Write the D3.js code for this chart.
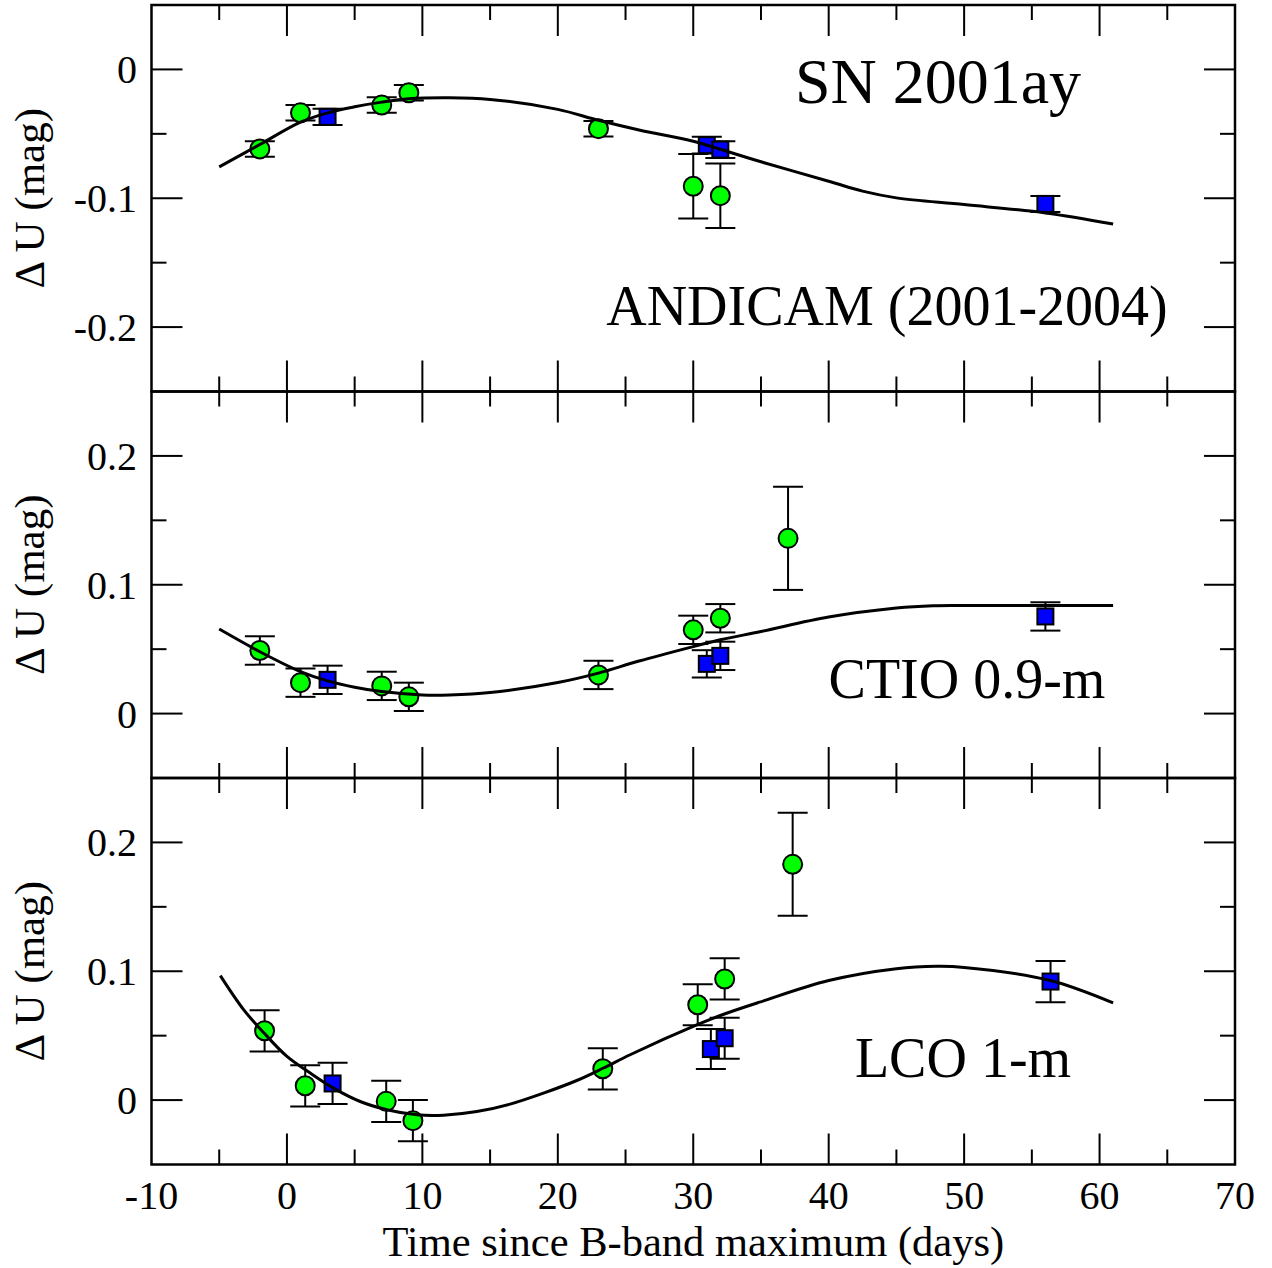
<!DOCTYPE html>
<html><head><meta charset="utf-8">
<script src="https://cdn.jsdelivr.net/npm/d3@7"></script>
<style>body{margin:0;background:#fff}svg{display:block}</style>
</head><body>
<svg id="c" width="1272" height="1268"></svg>
<script>
// ---------- data ----------
const xTickValues = [-10, 0, 10, 20, 30, 40, 50, 60, 70];
const xTickLabels = ["-10", "0", "10", "20", "30", "40", "50", "60", "70"];
const panelNames = ["ANDICAM (2001-2004)", "CTIO 0.9-m", "LCO 1-m"];
const yDomains = [[-0.25, 0.05], [-0.05, 0.25], [-0.05, 0.25]];
const yTickValues = [[-0.2, -0.1, 0], [0, 0.1, 0.2], [0, 0.1, 0.2]];
const yTickLabels = [["-0.2", "-0.1", "0"], ["0", "0.1", "0.2"], ["0", "0.1", "0.2"]];
const title = "SN 2001ay";
const xLabel = "Time since B-band maximum (days)";
const yLabel = "\u0394 U (mag)";

// ANDICAM
const andGreenT = [-2, 1, 7, 9, 23, 30, 32];
const andGreenV = [-0.0617, -0.0337, -0.0277, -0.0181, -0.046, -0.0907, -0.098];
const andGreenE = [0.006, 0.006, 0.006, 0.006, 0.006, 0.025, 0.025];
const andBlueT = [3, 31, 32, 56];
const andBlueV = [-0.0368, -0.0588, -0.0622, -0.1044];
const andBlueE = [0.0063, 0.0065, 0.0065, 0.0062];
const andFitT = [-5, -2, 1, 3, 5, 7, 9, 12, 15, 20, 23, 26, 30, 32, 35, 40, 42.5, 45, 50, 56, 61];
const andFitV = [-0.0756, -0.0583, -0.041, -0.0337, -0.029, -0.0254, -0.0228, -0.022, -0.0233, -0.031, -0.0395, -0.047, -0.0557, -0.062, -0.0717, -0.0868, -0.0945, -0.0997, -0.1049, -0.1114, -0.120];

// CTIO 0.9-m
const ctioGreenT = [-2, 1, 7, 9, 23, 30, 32, 37];
const ctioGreenV = [0.049, 0.024, 0.0215, 0.013, 0.030, 0.065, 0.074, 0.136];
const ctioGreenE = [0.011, 0.011, 0.011, 0.011, 0.011, 0.011, 0.011, 0.040];
const ctioBlueT = [3, 31, 32, 56];
const ctioBlueV = [0.0262, 0.0386, 0.0448, 0.0754];
const ctioBlueE = [0.011, 0.0106, 0.011, 0.011];
const ctioFitT = [-5, -2, 1, 3, 5, 7, 10, 12, 15, 20, 23, 26, 30, 32, 35, 40, 45, 47.7, 50, 61];
const ctioFitV = [0.0656, 0.048, 0.0326, 0.0254, 0.0205, 0.0171, 0.0145, 0.0145, 0.0163, 0.0241, 0.0314, 0.0408, 0.052, 0.0573, 0.0637, 0.0749, 0.0819, 0.0837, 0.0839, 0.0839];

// LCO 1-m
const lcoGreenT = [-1.65, 1.35, 7.33, 9.3, 23.32, 30.33, 32.32, 37.34];
const lcoGreenV = [0.0538, 0.0111, -0.001, -0.016, 0.0243, 0.074, 0.094, 0.183];
const lcoGreenE = [0.016, 0.016, 0.016, 0.016, 0.016, 0.016, 0.016, 0.040];
const lcoBlueT = [3.37, 31.3, 32.32, 56.38];
const lcoBlueV = [0.0129, 0.0396, 0.048, 0.092];
const lcoBlueE = [0.016, 0.0155, 0.016, 0.016];
const lcoFitT = [-4.92, -3.2, -1.73, 0, 1.72, 3.44, 5.41, 7.38, 9.59, 11.56, 14.02, 16.48, 18.94, 21.4, 23.37, 25.34, 30.3, 32.3, 34.9, 40, 45, 48, 50, 56.3, 61];
const lcoFitV = [0.0966, 0.0702, 0.0525, 0.0339, 0.021, 0.0093, -0.0011, -0.0075, -0.0114, -0.0117, -0.0089, -0.0031, 0.0054, 0.0152, 0.0249, 0.0352, 0.0585, 0.0668, 0.076, 0.0928, 0.102, 0.1038, 0.103, 0.093, 0.0754];

const panelsData = [
  {gT: andGreenT, gV: andGreenV, gE: andGreenE, bT: andBlueT, bV: andBlueV, bE: andBlueE, fT: andFitT, fV: andFitV},
  {gT: ctioGreenT, gV: ctioGreenV, gE: ctioGreenE, bT: ctioBlueT, bV: ctioBlueV, bE: ctioBlueE, fT: ctioFitT, fV: ctioFitV},
  {gT: lcoGreenT, gV: lcoGreenV, gE: lcoGreenE, bT: lcoBlueT, bV: lcoBlueV, bE: lcoBlueE, fT: lcoFitT, fV: lcoFitV}
];

// ---------- layout ----------
const left = 151.5, right = 1235, top0 = 5, panelH = 386.5;
const FONT = "'Liberation Serif', 'Times New Roman', serif";
const svg = d3.select("#c");
const x = d3.scaleLinear().domain([-10, 70]).range([left, right]);
const annot = [
  {text: panelNames[0], x: 887, y: 325},
  {text: panelNames[1], x: 967, y: 698},
  {text: panelNames[2], x: 963, y: 1077}
];

panelsData.forEach((pd, i) => {
  const pt = top0 + i * panelH, pb = pt + panelH;
  const y = d3.scaleLinear().domain(yDomains[i]).range([pb, pt]);
  const g = svg.append("g");
  const clipId = "clip" + i;
  g.append("clipPath").attr("id", clipId).append("rect")
    .attr("x", left).attr("y", pt).attr("width", right - left).attr("height", panelH);

  // ticks
  const xMaj = d3.range(-10, 70.01, 10), xMin = d3.range(-5, 70, 10);
  const yMaj = d3.range(Math.ceil(yDomains[i][0] * 10) / 10, yDomains[i][1] + 1e-9, 0.1);
  const yMinor = d3.range(yDomains[i][0], yDomains[i][1] + 1e-9, 0.05).filter(v => Math.abs(Math.round(v * 10) - v * 10) > 1e-6);
  const tk = g.append("g").attr("stroke", "#000").attr("stroke-width", 2);
  [[xMaj, 31], [xMin, 15]].forEach(([arr, len]) => {
    arr.forEach(t => {
      if (t <= -10 || t >= 70) return;
      tk.append("line").attr("x1", x(t)).attr("x2", x(t)).attr("y1", pt).attr("y2", pt + len);
      tk.append("line").attr("x1", x(t)).attr("x2", x(t)).attr("y1", pb).attr("y2", pb - len);
    });
  });
  [[yMaj, 31], [yMinor, 15]].forEach(([arr, len]) => {
    arr.forEach(v => {
      const yy = y(v);
      if (yy <= pt + 1 || yy >= pb - 1) return;
      tk.append("line").attr("x1", left).attr("x2", left + len).attr("y1", yy).attr("y2", yy);
      tk.append("line").attr("x1", right).attr("x2", right - len).attr("y1", yy).attr("y2", yy);
    });
  });

  // y tick labels
  yTickValues[i].forEach((v, k) => {
    g.append("text").attr("x", 137).attr("y", y(v)).attr("dy", "0.35em")
      .attr("text-anchor", "end").attr("font-family", FONT).attr("font-size", 40)
      .text(yTickLabels[i][k]);
  });

  // y label
  const cy = (pt + pb) / 2;
  g.append("text").attr("transform", `translate(44,${cy}) rotate(-90)`)
    .attr("text-anchor", "middle").attr("font-family", FONT).attr("font-size", 43)
    .text(yLabel);

  const data = g.append("g").attr("clip-path", `url(#${clipId})`);
  const cap = 15;
  function errbars(T, V, E) {
    const eb = data.append("g").attr("stroke", "#000").attr("stroke-width", 2);
    T.forEach((t, k) => {
      const cx = x(t), y1 = y(V[k] + E[k]), y2 = y(V[k] - E[k]);
      eb.append("line").attr("x1", cx).attr("x2", cx).attr("y1", y1).attr("y2", y2);
      eb.append("line").attr("x1", cx - cap).attr("x2", cx + cap).attr("y1", y1).attr("y2", y1);
      eb.append("line").attr("x1", cx - cap).attr("x2", cx + cap).attr("y1", y2).attr("y2", y2);
    });
  }
  errbars(pd.gT, pd.gV, pd.gE);
  data.append("g").selectAll("circle").data(pd.gT).join("circle")
    .attr("cx", t => x(t)).attr("cy", (t, k) => y(pd.gV[k])).attr("r", 9.5)
    .attr("fill", "#00ff00").attr("stroke", "#000").attr("stroke-width", 2);
  errbars(pd.bT, pd.bV, pd.bE);
  const s = 16;
  data.append("g").selectAll("rect").data(pd.bT).join("rect")
    .attr("x", t => x(t) - s / 2).attr("y", (t, k) => y(pd.bV[k]) - s / 2)
    .attr("width", s).attr("height", s)
    .attr("fill", "#0000ff").attr("stroke", "#000").attr("stroke-width", 2);

  // fit curve
  const line = d3.line().x(d => x(d[0])).y(d => y(d[1])).curve(d3.curveCatmullRom.alpha(0.5));
  data.append("path").datum(pd.fT.map((t, k) => [t, pd.fV[k]]))
    .attr("d", line).attr("fill", "none").attr("stroke", "#000").attr("stroke-width", 3);

  // frame
  g.append("rect").attr("x", left).attr("y", pt).attr("width", right - left).attr("height", panelH)
    .attr("fill", "none").attr("stroke", "#000").attr("stroke-width", 2.5);

  // annotation
  g.append("text").attr("x", annot[i].x).attr("y", annot[i].y).attr("text-anchor", "middle")
    .attr("font-family", FONT).attr("font-size", 56).text(annot[i].text);
});

// title
svg.append("text").attr("x", 938).attr("y", 103).attr("text-anchor", "middle")
  .attr("font-family", FONT).attr("font-size", 64).text(title);

// x tick labels
xTickValues.forEach((t, k) => {
  svg.append("text").attr("x", x(t)).attr("y", 1209).attr("text-anchor", "middle")
    .attr("font-family", FONT).attr("font-size", 40).text(xTickLabels[k]);
});
svg.append("text").attr("x", (left + right) / 2).attr("y", 1256).attr("text-anchor", "middle")
  .attr("font-family", FONT).attr("font-size", 42.5).text(xLabel);
</script>
</body></html>
